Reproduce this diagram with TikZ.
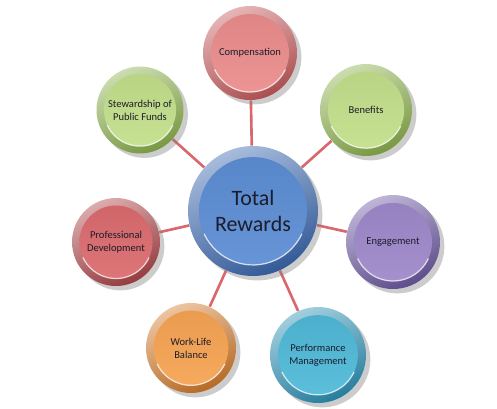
\documentclass[tikz,border=0pt]{standalone}
\usepackage{fontspec}
\setmainfont{Carlito}
\usetikzlibrary{shadows, backgrounds}

\definecolor{textdark}{HTML}{1C1C2A}
\definecolor{linkred}{HTML}{D9676C}
\definecolor{hubblue}{HTML}{5B8DD5}
\definecolor{hubrim}{HTML}{3C6AB2}
\definecolor{compfill}{HTML}{EC8C8C}
\definecolor{comprim}{HTML}{C85C5E}
\definecolor{greenfill}{HTML}{C3E08A}
\definecolor{greenrim}{HTML}{8DB34E}
\definecolor{engfill}{HTML}{9F88CB}
\definecolor{engrim}{HTML}{6E5AA3}
\definecolor{perffill}{HTML}{4FBAD9}
\definecolor{perfrim}{HTML}{2E93B8}
\definecolor{wlfill}{HTML}{F7A452}
\definecolor{wlrim}{HTML}{D67D2D}
\definecolor{pdfill}{HTML}{DC6B6E}
\definecolor{pdrim}{HTML}{B0464A}

\begin{document}
\begin{tikzpicture}[
    x=0.02cm, y=-0.02cm,
    disc/.style n args={3}{circle, inner sep=0pt, align=center, text=textdark,
        minimum size={2*#3}, top color=#2!45!white, bottom color=#2!85!black,
        shading angle=25,
        drop shadow={shadow xshift=2.5pt, shadow yshift=-2.5pt, opacity=.4},
        path picture={
            \shade[top color=#1!94!black, bottom color=#1!92!white]
                (path picture bounding box.center) circle[radius=0.83*#3];
            \draw[white, opacity=.75, line width=0.7pt]
                (path picture bounding box.center) ++(205:0.83*#3)
                arc[start angle=205, end angle=335, radius=0.83*#3];
        }},
    hubfont/.style={font=\fontsize{12.5}{14.5}\selectfont},
    smallfont/.style={font=\fontsize{6}{7.4}\selectfont},
    link/.style={draw=linkred, line width=1.5pt}
]
    \useasboundingbox (0,0) rectangle (497,409);

    % centre
    \node[disc={hubblue}{hubrim}{1.3cm}, hubfont] (total) at (253,211) {Total\\Rewards};

    % ring of outer bubbles
    \node[disc={compfill}{comprim}{0.94cm}, smallfont] (comp) at (250,53) {Compensation};
    \node[disc={greenfill}{greenrim}{0.92cm}, smallfont] (benefits) at (366,110) {Benefits};
    \node[disc={engfill}{engrim}{0.94cm}, smallfont] (engage) at (393,242) {Engagement};
    \node[disc={perffill}{perfrim}{0.96cm}, smallfont] (perf) at (318,355) {Performance\\Management};
    \node[disc={wlfill}{wlrim}{0.9cm}, smallfont] (worklife) at (191,348) {Work-Life\\Balance};
    \node[disc={pdfill}{pdrim}{0.88cm}, smallfont] (profdev) at (116,242) {Professional\\Development};
    \node[disc={greenfill}{greenrim}{0.87cm}, smallfont] (steward) at (140,110) {Stewardship of\\Public Funds};

    % spokes
    \begin{scope}[on background layer]
        \foreach \n in {comp, benefits, engage, perf, worklife, profdev, steward}
            \draw[link] (total) -- (\n);
    \end{scope}
\end{tikzpicture}
\end{document}
